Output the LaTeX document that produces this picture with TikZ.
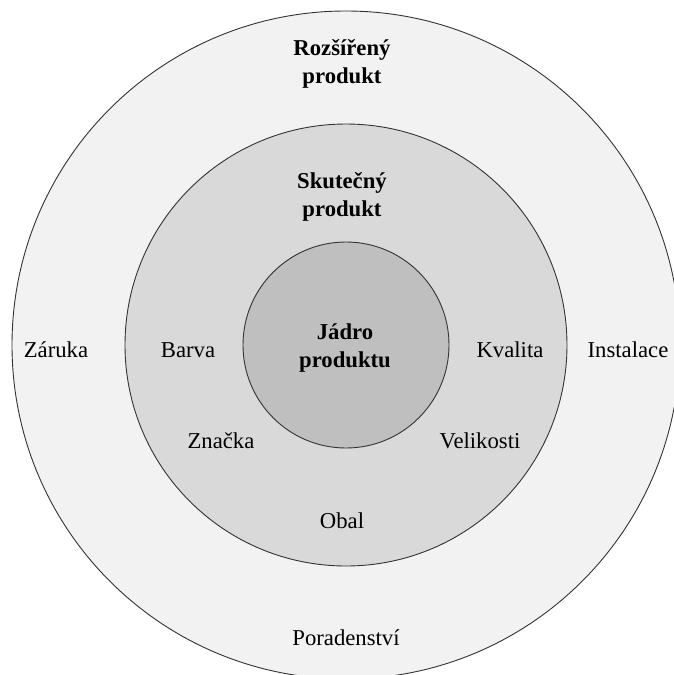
\documentclass[tikz,border=0pt]{standalone}
\usepackage{fontspec}
\setmainfont{Liberation Serif}
\definecolor{outerfill}{HTML}{F2F2F2}
\definecolor{midfill}{HTML}{D9D9D9}
\definecolor{innerfill}{HTML}{BFBFBF}
\definecolor{ringline}{HTML}{333333}
\begin{document}
\begin{tikzpicture}[x=1pt,y=-1pt,
  ring/.style={draw=ringline,line width=0.9pt},
  lbl/.style={font=\fontsize{22.7}{28}\selectfont,inner sep=0pt,align=center},
  blbl/.style={lbl,font=\fontsize{22.7}{28}\selectfont\bfseries}]
\useasboundingbox (0,0) rectangle (674,675);
\clip (0,0) rectangle (674,675);
\fill[white] (0,0) rectangle (674,675);
\coordinate (c) at (346,345);
\draw[ring,fill=outerfill] (c) circle[radius=334];
\draw[ring,fill=midfill] (c) circle[radius=221];
\draw[ring,fill=innerfill] (c) circle[radius=103];
\node[blbl] (rozsireny) at (342,64) {Rozšířený\\produkt};
\node[blbl] (skutecny) at (342,197) {Skutečný\\produkt};
\node[blbl] (jadro) at (345,348) {Jádro\\produktu};
\node[lbl] (zaruka) at (56,350) {Záruka};
\node[lbl] (barva) at (188,350) {Barva};
\node[lbl] (kvalita) at (510,350) {Kvalita};
\node[lbl] (instalace) at (628,350) {Instalace};
\node[lbl] (znacka) at (221,441) {Značka};
\node[lbl] (velikosti) at (480,441) {Velikosti};
\node[lbl] (obal) at (342,521) {Obal};
\node[lbl] (poradenstvi) at (346,638) {Poradenství};
\end{tikzpicture}
\end{document}
